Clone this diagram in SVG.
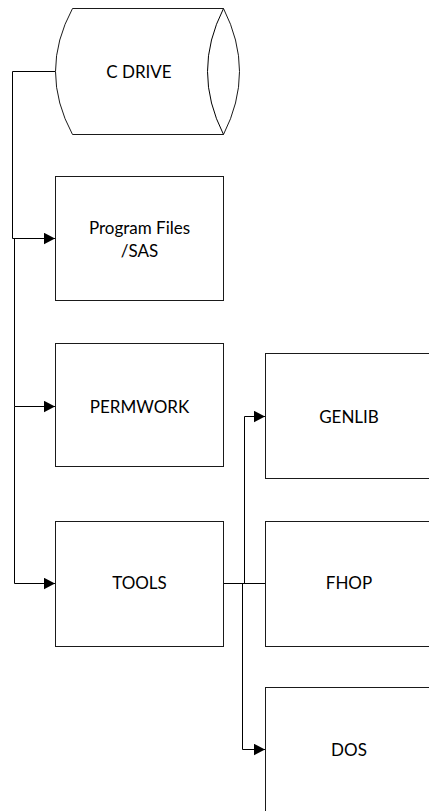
<svg xmlns="http://www.w3.org/2000/svg" width="429" height="811" viewBox="0 0 429 811">
  <style>
    .shape { fill: #ffffff; stroke: #1a1a1a; stroke-width: 1; }
    .wire { fill: none; stroke: #000000; stroke-width: 1; }
    .label { font-family: "Lato", "Liberation Sans", sans-serif; font-size: 17px; fill: #000000; text-anchor: middle; dominant-baseline: central; }
  </style>
  <defs>
    <marker id="arrow" markerUnits="userSpaceOnUse" markerWidth="13" markerHeight="13" refX="11.5" refY="6" orient="auto">
      <path d="M0,0 L11.5,6 L0,12 Z" fill="#000000"/>
    </marker>
  </defs>

  <rect width="429" height="811" fill="#ffffff"/>

  <!-- connectors -->
  <g id="connectors">
    <path class="wire" d="M55.5,71.5 H12.5 V238.5 H55" marker-end="url(#arrow)"/>
    <path class="wire" d="M14.5,238.5 V406.5 H55" marker-end="url(#arrow)"/>
    <path class="wire" d="M14.5,406.5 V583.5 H55" marker-end="url(#arrow)"/>
    <path class="wire" d="M223.5,583.5 H266"/>
    <path class="wire" d="M223.5,583.5 H244.5 V416.5 H265" marker-end="url(#arrow)"/>
    <path class="wire" d="M223.5,583.5 H242.5 V749.5 H265" marker-end="url(#arrow)"/>
  </g>

  <!-- drive cylinder -->
  <g id="c-drive">
    <path class="shape" d="M72.5,8.5 H223.5 Q255.5,71.5 223.5,134.5 H72.5 Q38.5,71.5 72.5,8.5 Z"/>
    <path class="wire" d="M223.5,8.5 Q191.5,71.5 223.5,134.5"/>
    <text class="label" x="139" y="71">C DRIVE</text>
  </g>

  <g id="program-files">
    <rect class="shape" x="55.5" y="176.5" width="168" height="124"/>
    <text class="label" x="139.5" y="227">Program Files</text>
    <text class="label" x="139.5" y="250">/SAS</text>
  </g>

  <g id="permwork">
    <rect class="shape" x="55.5" y="343.5" width="168" height="123"/>
    <text class="label" x="139.5" y="406">PERMWORK</text>
  </g>

  <g id="tools">
    <rect class="shape" x="55.5" y="521.5" width="168" height="125"/>
    <text class="label" x="139.5" y="582">TOOLS</text>
  </g>

  <g id="genlib">
    <rect class="shape" x="265.5" y="353.5" width="168" height="125"/>
    <text class="label" x="349" y="416">GENLIB</text>
  </g>

  <g id="fhop">
    <rect class="shape" x="265.5" y="521.5" width="168" height="125"/>
    <text class="label" x="349" y="582">FHOP</text>
  </g>

  <g id="dos">
    <rect class="shape" x="265.5" y="687.5" width="168" height="130"/>
    <text class="label" x="349" y="749">DOS</text>
  </g>
</svg>
